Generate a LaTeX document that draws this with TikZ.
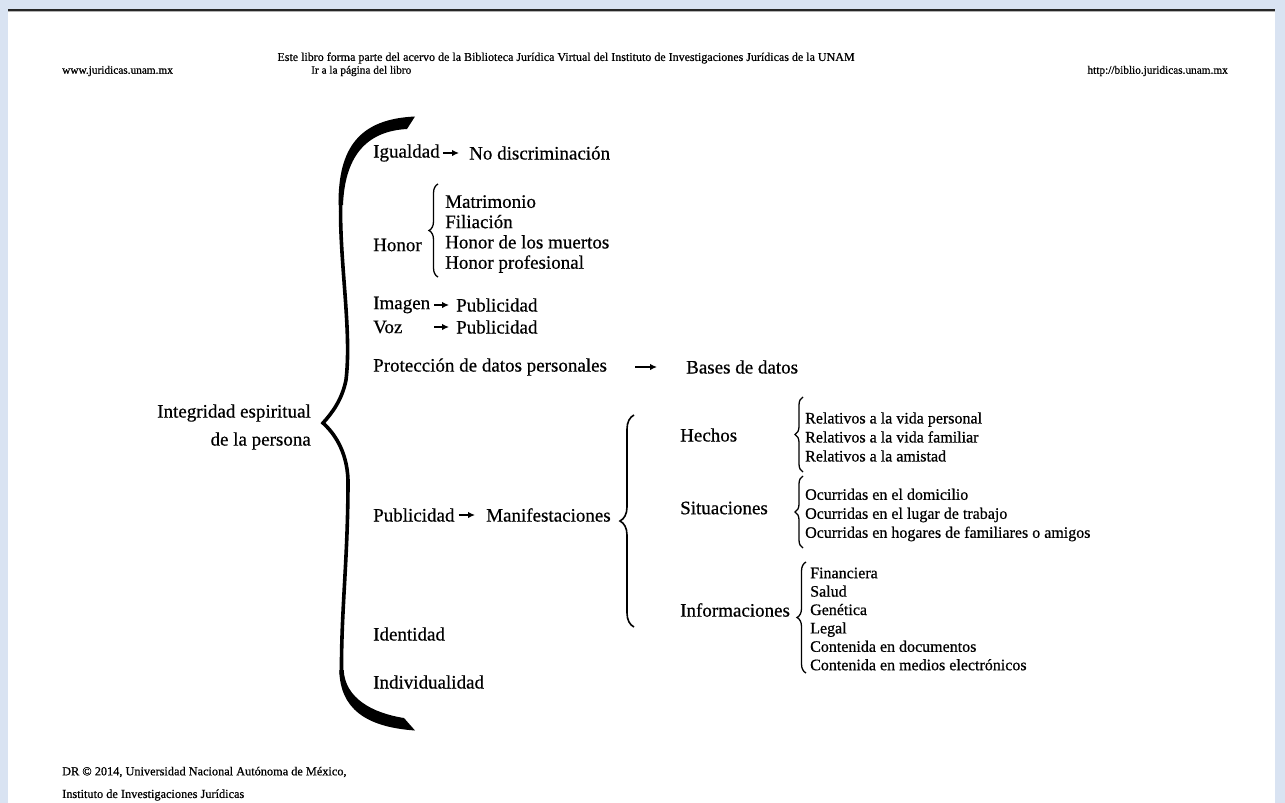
\documentclass[tikz,border=0pt]{standalone}
\usepackage{fontspec}
\setmainfont{Liberation Serif}
\newfontfamily\dark[FakeBold=0.6]{Liberation Serif}
\usetikzlibrary{arrows.meta,decorations.pathreplacing}
\definecolor{bgblue}{HTML}{D9E3F2}
\tikzset{
  lbl/.style={anchor=west,inner sep=0pt,font=\dark\fontsize{19}{21}\selectfont},
  sml/.style={anchor=west,inner sep=0pt,align=left,font=\dark\fontsize{16}{19}\selectfont},
  hdr/.style={inner sep=0pt,font=\dark\fontsize{11.3}{13}\selectfont},
  arr/.style={line width=1.7pt,-{Latex[length=7pt,width=6.5pt]}},
  brc/.style={decorate,line width=1.3pt},
}
\begin{document}
\begin{tikzpicture}[x=1pt,y=-1pt]
\useasboundingbox (0,0) rectangle (1285,803);
\fill[bgblue] (0,0) rectangle (1285,803);
\fill[white] (8,10) rectangle (1275,803);
\fill[black!85] (8,8.5) rectangle (1275,10.5);
\fill[black!30] (8,10.5) rectangle (1275,11.5);

% header
\node[hdr,anchor=center,font=\dark\fontsize{12}{13}\selectfont] (h1) at (566,58) {Este libro forma parte del acervo de la Biblioteca Jurídica Virtual del Instituto de Investigaciones Jurídicas de la UNAM};
\node[hdr,anchor=west] (h2) at (62,71) {www.juridicas.unam.mx};
\node[hdr,anchor=west] (h3) at (311,71) {Ir a la página del libro};
\node[hdr,anchor=east] (h4) at (1228,71) {http://biblio.juridicas.unam.mx};
% footer
\node[hdr,anchor=west,font=\dark\fontsize{12.3}{14}\selectfont] (f1) at (62,772) {DR © 2014, Universidad Nacional Autónoma de México,};
\node[hdr,anchor=west,font=\dark\fontsize{12.3}{14}\selectfont] (f2) at (62,795) {Instituto de Investigaciones Jurídicas};

% root
\node[anchor=east,inner sep=0pt,align=right,font=\dark\fontsize{19}{28}\selectfont] (root) at (311,427) {Integridad espiritual\\de la persona};

% big brace
\fill (338.5,205) .. controls (338,147) and (360,119) .. (415,116.5)
  -- (407,129) .. controls (370,131) and (345,152) .. (343,205) -- cycle;
\draw[line width=3.6pt]
  (340.7,200) .. controls (339,260) and (352,330) .. (346,380)
  .. controls (342,400) and (332,413) .. (323,423)
  .. controls (333,432) and (347,450) .. (348,480)
  .. controls (348,560) and (341,610) .. (341.5,675);
\fill (339.3,670) .. controls (340,708) and (365,727) .. (415,730.5)
  -- (404,718) .. controls (372,713) and (345,698) .. (343.7,670) -- cycle;

% first level
\node[lbl] (igu) at (373,153) {Igualdad};
\node[lbl] (nod) at (469,153) {No discriminación};
\draw[arr] ([xshift=3pt]igu.east) -- ([xshift=-10pt]nod.west);

\node[lbl] (hon) at (373,245) {Honor};
\draw[brc,decoration={brace,amplitude=9pt}] (438,277) -- (438,184);
\node[lbl,align=left,font=\dark\fontsize{19}{20.3}\selectfont] (honl) at (445,234) {Matrimonio\\Filiación\\Honor de los muertos\\Honor profesional};

\node[lbl] (ima) at (373,305) {Imagen};
\node[lbl] (pub1) at (456,305) {Publicidad};
\draw[arr] ([xshift=4pt]ima.east) -- ([xshift=-7pt]pub1.west);
\node[lbl] (voz) at (373,327) {Voz};
\node[lbl] (pub2) at (456,327) {Publicidad};
\draw[arr] ([xshift=4pt]ima.east |- pub2.west) -- ([xshift=-7pt]pub2.west);

\node[lbl] (pro) at (373,367) {Protección de datos personales};
\node[lbl] (bas) at (686,367) {Bases de datos};
\draw[arr] ([xshift=28pt]pro.east) -- ([xshift=-29pt]bas.west);

\node[lbl] (pub) at (373,515) {Publicidad};
\node[lbl] (man) at (486,515) {Manifestaciones};
\draw[arr] ([xshift=4pt]pub.east) -- ([xshift=-11pt]man.west);
\draw[brc,line width=1.6pt,decoration={brace,amplitude=14pt}] (634,627) -- (634,415);

\node[lbl] (ide) at (373,634) {Identidad};
\node[lbl] (ind) at (373,682) {Individualidad};

% second level
\node[lbl] (hec) at (680,435) {Hechos};
\node[lbl] (sit) at (680,508) {Situaciones};
\node[lbl] (inf) at (680,610) {Informaciones};

\draw[brc,decoration={brace,amplitude=8pt}] (803,472) -- (803,397);
\node[sml] (hecl) at (805,437) {Relativos a la vida personal\\Relativos a la vida familiar\\Relativos a la amistad};

\draw[brc,decoration={brace,amplitude=8pt}] (803,548) -- (803,476);
\node[sml] (sitl) at (805,515) {Ocurridas en el domicilio\\Ocurridas en el lugar de trabajo\\Ocurridas en hogares de familiares o amigos};

\draw[brc,decoration={brace,amplitude=9pt}] (806,673) -- (806,562);
\node[sml,font=\dark\fontsize{16}{18.4}\selectfont] (infl) at (810,619) {Financiera\\Salud\\Genética\\Legal\\Contenida en documentos\\Contenida en medios electrónicos};
\end{tikzpicture}
\end{document}
